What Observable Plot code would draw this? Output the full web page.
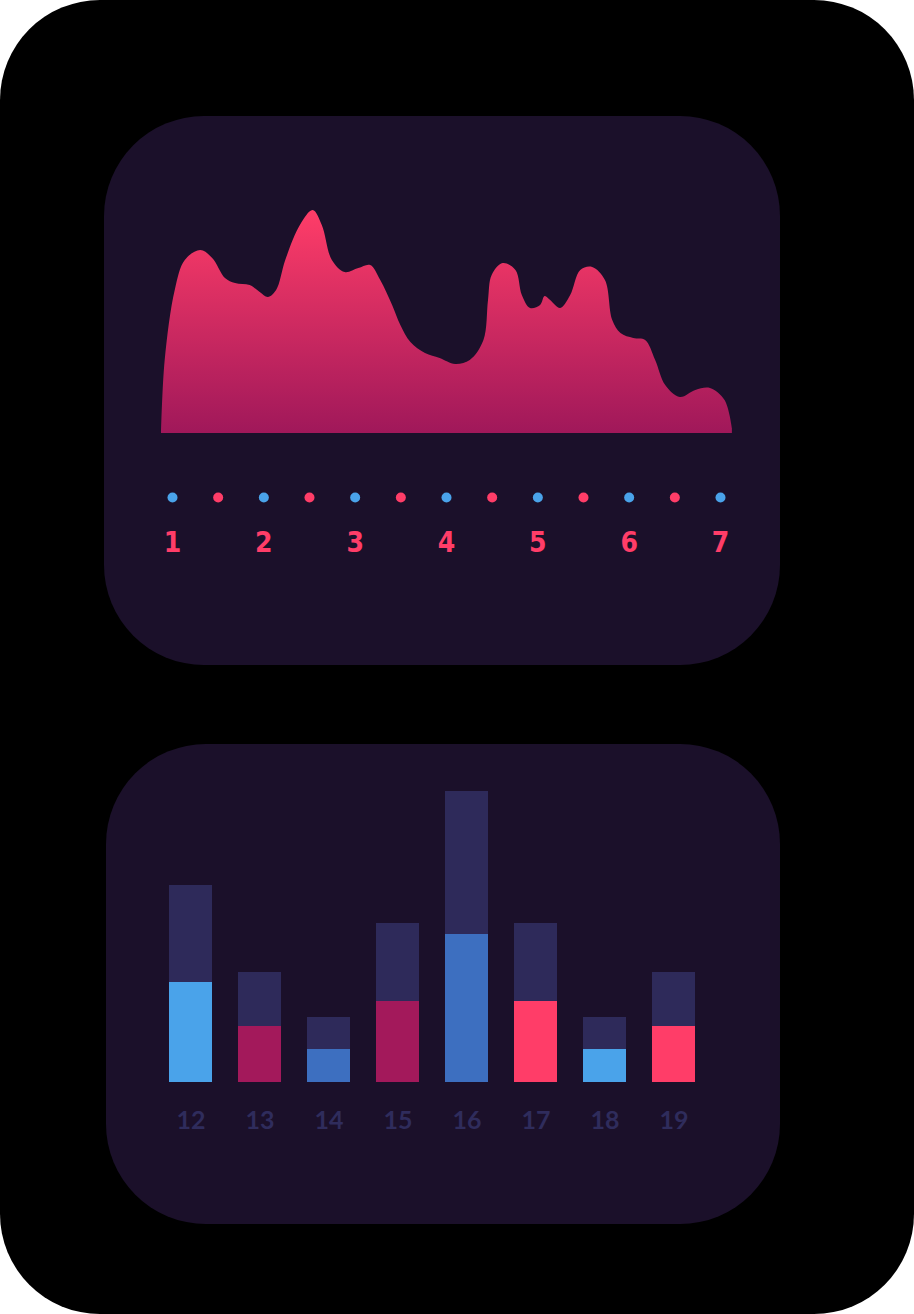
<!DOCTYPE html>
<html><head><meta charset="utf-8">
<script src="https://cdn.jsdelivr.net/npm/d3@7"></script>
<script src="https://cdn.jsdelivr.net/npm/@observablehq/plot@0.6"></script>
<style>
body{margin:0;background:#fff;width:914px;height:1314px;overflow:hidden;font-family:"Open Sans",sans-serif}
#frame{position:absolute;left:0;top:0;width:914px;height:1314px;background:#000;border-radius:100px}
.panel{position:absolute;background:#1b102a;border-radius:100px;overflow:hidden}
#p1{left:104px;top:116px;width:676px;height:549px}
#p2{left:106px;top:744px;width:674px;height:480px}
</style></head><body>
<div id="frame"></div>
<div class="panel" id="p1"></div>
<div class="panel" id="p2"></div>
<script>
// Area chart
const areaX = [0.88,0.92,1.03,1.14,1.31,1.44,1.58,1.69,1.85,1.96,2.05,2.14,2.24,2.40,2.54,2.64,2.75,2.89,3.04,3.17,3.28,3.41,3.50,3.61,3.77,3.93,4.10,4.26,4.41,4.46,4.50,4.62,4.76,4.83,4.92,5.03,5.08,5.14,5.25,5.36,5.47,5.60,5.74,5.82,5.91,6.05,6.18,6.29,6.40,6.56,6.73,6.89,7.05,7.13];
const areaY = [0,73,143,173,183,175,155,150,148,141,136,143,173,208,223,208,173,161,165,168,153,128,108,91,80,75,69,73,93,133,158,170,163,138,125,128,137,133,125,138,163,166,153,113,100,95,93,73,48,36,43,45,33,5];
const dotX = [1,1.5,2,2.5,3,3.5,4,4.5,5,5.5,6,6.5,7];
const dotColors = ["#4aa3ea","#ff3d68"];
const dayLabels = ["1","2","3","4","5","6","7"];
// Bar chart
const barCats = ["12","13","14","15","16","17","18","19"];
const barTotal = [197,110,65,159,291,159,65,110];
const barPart = [100,56,33,81,148,81,33,56];
const partColors = ["#4aa3ea","#a3195b","#3d6fc0","#a3195b","#3d6fc0","#ff3d68","#4aa3ea","#ff3d68"];
const totalColor = "#2e2a5a";

const area = areaX.map((x,i)=>({x,y:areaY[i]}));
const dots = dotX.map((x,i)=>({x,c:dotColors[i%2]}));
const labs = dayLabels.map((t,i)=>({x:i+1,t}));

const p1 = Plot.plot({
  width:676,height:549,marginLeft:68,marginRight:60,marginTop:94,marginBottom:232,
  x:{domain:[1,7],axis:null},y:{domain:[0,223],axis:null},
  style:{background:"transparent",overflow:"visible"},
  marks:[
    Plot.areaY(area,{x:"x",y:"y",curve:"catmull-rom",fill:"url(#pinkgrad)"}),
    Plot.dot(dots,{x:"x",y:-64,r:5,fill:"c",stroke:null}),
    Plot.text(labs,{x:"x",y:-110,text:"t",fill:"#ff3d68",fontSize:28,fontWeight:"bold",fontFamily:"DejaVu Sans Condensed"})
  ]
});
const defs = document.createElementNS("http://www.w3.org/2000/svg","defs");
defs.innerHTML='<linearGradient id="pinkgrad" x1="0" y1="0" x2="0" y2="1"><stop offset="0" stop-color="#ff3d68"/><stop offset="1" stop-color="#a0185a"/></linearGradient>';
p1.insertBefore(defs,p1.firstChild);
document.getElementById("p1").appendChild(p1);

const bars = barCats.map((c,i)=>({c,total:barTotal[i],part:barPart[i],col:partColors[i]}));
const p2 = Plot.plot({
  width:674,height:480,marginLeft:36,marginRight:59,marginTop:47,marginBottom:142,
  x:{domain:barCats,padding:0.38,axis:null},y:{domain:[0,291],axis:null},
  style:{background:"transparent",overflow:"visible"},
  marks:[
    Plot.barY(bars,{x:"c",y:"total",fill:totalColor}),
    Plot.barY(bars,{x:"c",y:"part",fill:"col"}),
    Plot.text(bars,{x:"c",y:-38,text:"c",fill:"#2f2c5c",fontSize:25,fontWeight:"bold",fontFamily:"Lato"})
  ]
});
document.getElementById("p2").appendChild(p2);
</script></body></html>
